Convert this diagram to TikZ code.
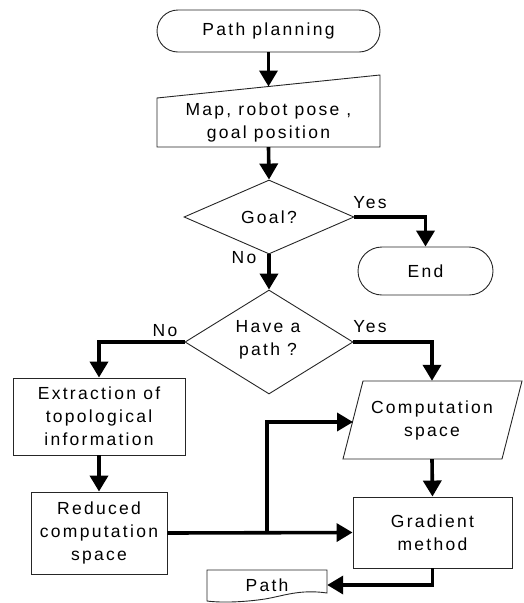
\documentclass[tikz,border=0pt]{standalone}
\usepackage{fontspec}
\setmainfont{Liberation Sans}[LetterSpace=13]
\usetikzlibrary{shapes.geometric,arrows.meta,calc}

\tikzset{
  outline/.style={draw=black!85, line width=0.9pt},
  txt/.style={font=\fontsize{17.5}{23}\selectfont, align=center, inner sep=0pt},
  terminal/.style={txt, outline, rectangle, rounded corners=#1},
  procbox/.style={txt, outline, rectangle},
  decision/.style={txt, outline, diamond, inner sep=0pt},
  flow/.style={line width=3.6pt, -{Triangle[width=18pt,length=16pt]}},
  lbl/.style={font=\fontsize{17.5}{20}\selectfont, inner sep=0pt}
}

\begin{document}
\begin{tikzpicture}[x=1pt,y=-1pt]
\useasboundingbox (0,0) rectangle (524,603);

% start terminal
\node[terminal=21pt, minimum width=223pt, minimum height=42pt] (start) at (268.5,31) {Path planning};

% manual input: sloped top edge
\node[txt, minimum width=223pt, minimum height=50pt] (input) at (268.5,122) {Map, robot pose ,\\goal position};
\draw[outline] (157,147) -- (380,147) -- (380,75) -- (157,98) -- cycle;
\coordinate (inTop) at (268.5,86.5);

% decisions
\node[decision, minimum width=170pt, minimum height=74pt] (goal) at (269,217) {Goal?};
\node[terminal=24pt, minimum width=135pt, minimum height=48pt] (end) at (425.5,271) {End};
\node[decision, minimum width=168pt, minimum height=104pt] (havep) at (269,342) {};
\node[txt] at (268,340) {Have a\\path ?};

% left branch
\node[procbox, minimum width=172pt, minimum height=77pt] (extr) at (99,416.5) {Extraction of\\topological\\information};
\node[procbox, minimum width=136pt, minimum height=82pt] (red) at (99,533) {Reduced\\computation\\space};

% right branch: computation space (parallelogram)
\node[txt, minimum width=150pt, minimum height=78pt] (comp) at (432,420) {Computation\\space};
\draw[outline] (343,459) -- (502,459) -- (522,381) -- (363,381) -- cycle;
\coordinate (compIn) at (353,422);

\node[procbox, minimum width=159pt, minimum height=71pt] (grad) at (432.5,532.5) {Gradient\\method};

% output document
\node[txt, minimum width=120pt, minimum height=30pt] (pathdoc) at (267,585) {Path};
\draw[outline] (207,570) -- (327,570) -- (327,593)
  .. controls (300,589) and (283,596) .. (265,599)
  .. controls (245,602) and (222,603) .. (207,601) -- cycle;

% connectors
\draw[flow] (start.south) -- (inTop);
\draw[flow] (input.south) -- (goal.north);
\draw[flow] (goal.east) -| (end.north);
\draw[flow] (goal.south) -- (havep.north);
\draw[flow] (havep.west) -| (extr.north);
\draw[flow] (havep.east) -| (comp.north);
\draw[flow] (extr.south) -- (red.north);
\draw[flow] (comp.south) -- (grad.north);
\coordinate (junc) at (267,533);
\draw[flow] (red.east) -- (grad.west);
\draw[flow] (junc) |- (compIn);
\draw[flow] (grad.south) |- (pathdoc.east);

% branch labels
\node[lbl] at (370,203) {Yes};
\node[lbl] at (244,258) {No};
\node[lbl] at (165,331) {No};
\node[lbl] at (370,327) {Yes};
\end{tikzpicture}
\end{document}
